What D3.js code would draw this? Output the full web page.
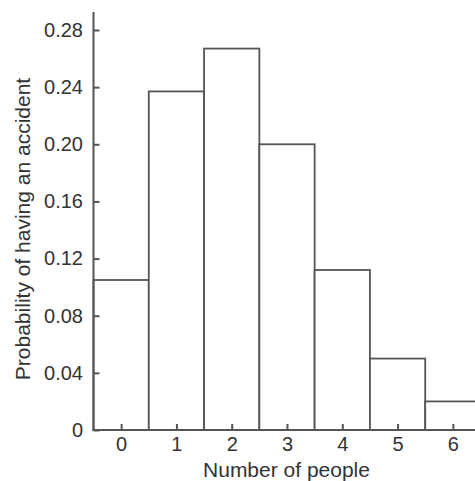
<!DOCTYPE html>
<html><head><meta charset="utf-8">
<script src="https://cdn.jsdelivr.net/npm/d3@7"></script>
<style>body{margin:0;background:#fff}svg{display:block}</style>
</head><body>
<svg id="c" width="475" height="481"></svg>
<script>
const categories = [0, 1, 2, 3, 4, 5, 6];
const probabilities = [0.105, 0.237, 0.267, 0.200, 0.112, 0.050, 0.020];
const yTicks = [0, 0.04, 0.08, 0.12, 0.16, 0.20, 0.24, 0.28];
const yTickLabels = ["0", "0.04", "0.08", "0.12", "0.16", "0.20", "0.24", "0.28"];
const xTitle = "Number of people";
const yTitle = "Probability of having an accident";

const svg = d3.select("#c");
const font = "'Liberation Sans', Arial, Helvetica, sans-serif";
const ink = "#555";
const textInk = "#333";

const x = d3.scaleLinear().domain([-0.5, 6.5]).range([93.5, 480.5]);
const y = d3.scaleLinear().domain([0, 0.28]).range([430, 30]);

// bars
svg.append("g").selectAll("rect").data(categories).join("rect")
  .attr("x", d => x(d - 0.5))
  .attr("width", d => x(d + 0.5) - x(d - 0.5))
  .attr("y", (d, i) => y(probabilities[i]))
  .attr("height", (d, i) => y(0) - y(probabilities[i]))
  .attr("fill", "#fff")
  .attr("stroke", ink)
  .attr("stroke-width", 1.8);

// y axis
const yAxis = d3.axisLeft(y).tickValues(yTicks)
  .tickFormat((d, i) => yTickLabels[i]).tickSizeInner(-6).tickSizeOuter(0).tickPadding(10.5);
const gy = svg.append("g").attr("transform", `translate(${x(-0.5)},0)`).call(yAxis);
gy.select(".domain").remove();
gy.append("line").attr("x1", 0).attr("x2", 0).attr("y1", 12).attr("y2", y(0) + 1)
  .attr("stroke", ink).attr("stroke-width", 2);
gy.selectAll(".tick line").attr("stroke", ink).attr("stroke-width", 2);
gy.selectAll(".tick text").attr("fill", textInk).style("font-family", font).style("font-size", "20px");

// x axis
const xAxis = d3.axisBottom(x).tickValues(categories).tickFormat(d3.format("d"))
  .tickSizeInner(-6).tickSizeOuter(0).tickPadding(7);
const gx = svg.append("g").attr("transform", `translate(0,${y(0)})`).call(xAxis);
gx.select(".domain").remove();
gx.append("line").attr("x1", x(-0.5) - 1).attr("x2", 480).attr("y1", 0).attr("y2", 0)
  .attr("stroke", ink).attr("stroke-width", 2);
gx.selectAll(".tick line").attr("stroke", ink).attr("stroke-width", 2);
gx.selectAll(".tick text").attr("fill", textInk).style("font-family", font).style("font-size", "20px");

// titles
svg.append("text").attr("x", 286.5).attr("y", 477).attr("text-anchor", "middle")
  .attr("fill", textInk).style("font-family", font).style("font-size", "21px").text(xTitle);
svg.append("text").attr("transform", "translate(30,229) rotate(-90)").attr("text-anchor", "middle")
  .attr("fill", textInk).style("font-family", font).style("font-size", "21px").text(yTitle);
</script>
</body></html>
